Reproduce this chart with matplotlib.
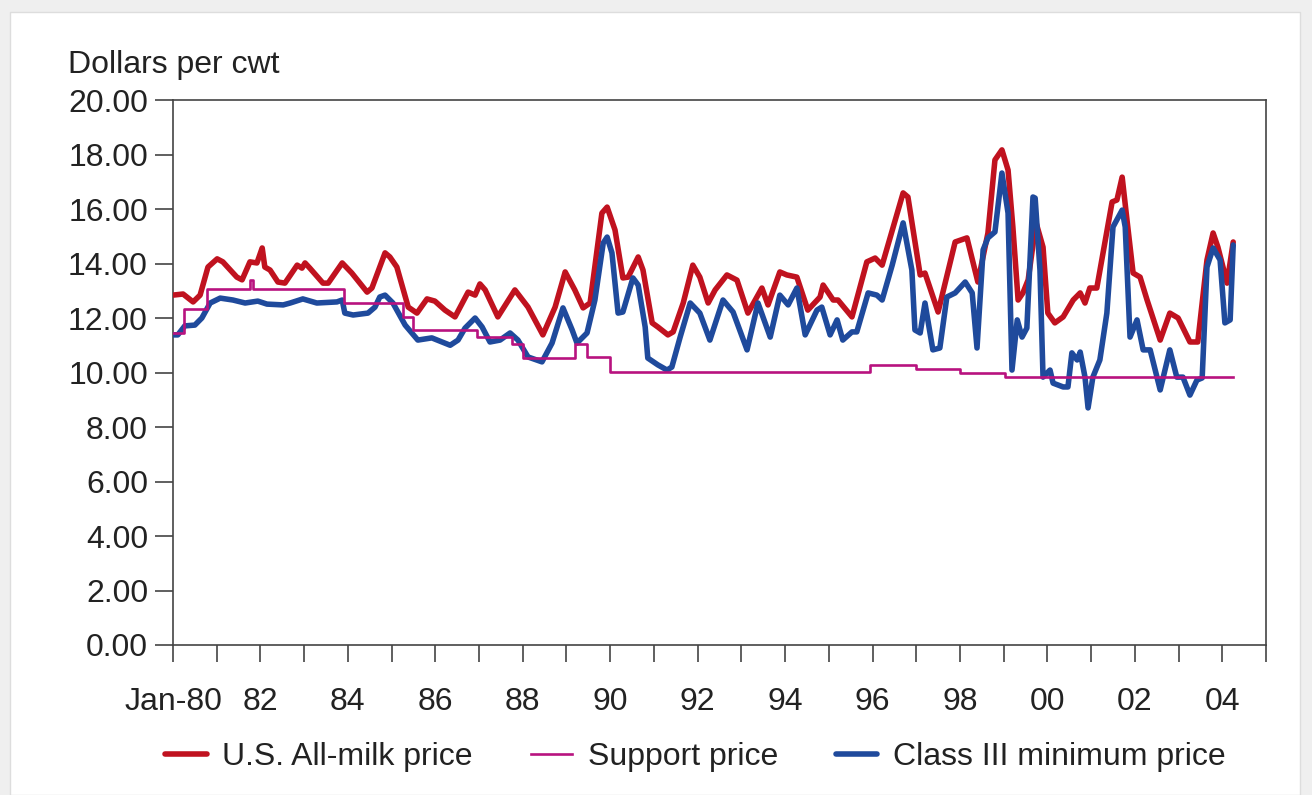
import numpy as np
import matplotlib
matplotlib.use("Agg")
import matplotlib.pyplot as plt
from matplotlib.patches import Rectangle

plt.rcParams["font.family"] = ["Liberation Sans", "DejaVu Sans"]

# U.S. All-milk price (decimal year, dollars per cwt)
allmilk_t = [1980.00, 1980.23, 1980.46, 1980.62, 1980.80, 1981.01, 1981.14, 1981.46, 1981.58, 1981.76,
             1981.92, 1982.04, 1982.10, 1982.22, 1982.40, 1982.56, 1982.84, 1982.95, 1983.02, 1983.13,
             1983.43, 1983.55, 1983.87, 1984.09, 1984.44, 1984.55, 1984.85, 1984.96, 1985.12, 1985.38,
             1985.58, 1985.81, 1985.99, 1986.22, 1986.45, 1986.75, 1986.91, 1987.02, 1987.14, 1987.43,
             1987.82, 1988.12, 1988.46, 1988.74, 1988.97, 1989.19, 1989.38, 1989.54, 1989.81, 1989.93,
             1990.11, 1990.29, 1990.41, 1990.64, 1990.75, 1990.96, 1991.09, 1991.32, 1991.44, 1991.67,
             1991.89, 1992.05, 1992.24, 1992.40, 1992.67, 1992.90, 1993.15, 1993.47, 1993.61, 1993.88,
             1994.04, 1994.27, 1994.52, 1994.80, 1994.87, 1995.10, 1995.21, 1995.53, 1995.87, 1996.06,
             1996.22, 1996.70, 1996.81, 1997.09, 1997.20, 1997.50, 1997.89, 1998.16, 1998.41, 1998.64,
             1998.80, 1998.96, 1999.10, 1999.21, 1999.33, 1999.44, 1999.56, 1999.74, 1999.90, 2000.01,
             2000.17, 2000.36, 2000.59, 2000.75, 2000.86, 2000.97, 2001.13, 2001.48, 2001.59, 2001.71,
             2001.82, 2001.96, 2002.12, 2002.28, 2002.58, 2002.80, 2002.99, 2003.26, 2003.44, 2003.65,
             2003.79, 2003.90, 2004.11, 2004.25]
allmilk_v = [12.84, 12.88, 12.59, 12.84, 13.87, 14.17, 14.06, 13.50, 13.40, 14.06,
             14.02, 14.57, 13.87, 13.76, 13.32, 13.28, 13.94, 13.83, 14.02, 13.83,
             13.28, 13.28, 14.02, 13.65, 12.95, 13.10, 14.39, 14.24, 13.87, 12.40,
             12.18, 12.70, 12.62, 12.29, 12.04, 12.95, 12.84, 13.25, 13.03, 12.04,
             13.03, 12.40, 11.38, 12.40, 13.69, 13.03, 12.37, 12.55, 15.85, 16.07,
             15.23, 13.47, 13.50, 14.24, 13.76, 11.82, 11.67, 11.38, 11.49, 12.55,
             13.94, 13.50, 12.55, 13.03, 13.58, 13.39, 12.18, 13.10, 12.48, 13.69,
             13.58, 13.50, 12.29, 12.77, 13.21, 12.66, 12.66, 12.04, 14.06, 14.20,
             13.94, 16.59, 16.44, 13.58, 13.65, 12.22, 14.79, 14.94, 13.32, 15.12,
             17.80, 18.17, 17.43, 15.34, 12.66, 12.92, 13.40, 15.50, 14.60, 12.18,
             11.82, 12.04, 12.66, 12.92, 12.55, 13.10, 13.10, 16.26, 16.33, 17.17,
             15.60, 13.65, 13.50, 12.66, 11.19, 12.18, 12.00, 11.12, 11.12, 14.13,
             15.12, 14.60, 13.28, 14.79]

# Support price, step changes (decimal year, dollars per cwt)
support_t = [1980.00, 1980.25, 1980.78, 1981.75, 1981.83, 1983.92, 1985.25, 1985.50, 1986.95,
             1987.75, 1988.00, 1989.20, 1989.47, 1990.00, 1995.94, 1997.00, 1998.00, 1999.03, 2004.25]
support_v = [11.45, 12.33, 13.06, 13.40, 13.06, 12.55, 12.04, 11.56, 11.30,
             11.04, 10.53, 11.04, 10.57, 10.02, 10.27, 10.13, 9.98, 9.83, 9.83]

# Class III minimum price (decimal year, dollars per cwt)
class3_t = [1980.00, 1980.11, 1980.27, 1980.50, 1980.66, 1980.85, 1981.08, 1981.37, 1981.65, 1981.94,
            1982.15, 1982.52, 1982.68, 1982.97, 1983.29, 1983.75, 1983.87, 1983.93, 1984.12, 1984.46,
            1984.62, 1984.73, 1984.85, 1985.03, 1985.31, 1985.60, 1985.92, 1986.34, 1986.52, 1986.68,
            1986.91, 1987.07, 1987.25, 1987.48, 1987.71, 1987.89, 1988.12, 1988.44, 1988.67, 1988.92,
            1989.13, 1989.24, 1989.47, 1989.65, 1989.84, 1989.93, 1990.04, 1990.18, 1990.29, 1990.52,
            1990.64, 1990.80, 1990.86, 1991.09, 1991.30, 1991.41, 1991.60, 1991.83, 1992.05, 1992.28,
            1992.58, 1992.81, 1993.13, 1993.38, 1993.66, 1993.88, 1994.07, 1994.27, 1994.46, 1994.73,
            1994.84, 1995.03, 1995.19, 1995.32, 1995.53, 1995.64, 1995.90, 1996.10, 1996.22, 1996.45,
            1996.70, 1996.90, 1996.97, 1997.09, 1997.20, 1997.38, 1997.54, 1997.70, 1997.89, 1998.12,
            1998.28, 1998.39, 1998.53, 1998.64, 1998.80, 1998.96, 1999.10, 1999.19, 1999.31, 1999.42,
            1999.53, 1999.67, 1999.72, 1999.83, 1999.90, 2000.06, 2000.13, 2000.36, 2000.47, 2000.56,
            2000.68, 2000.75, 2000.86, 2000.93, 2001.04, 2001.20, 2001.36, 2001.50, 2001.71, 2001.78,
            2001.89, 2002.05, 2002.19, 2002.35, 2002.58, 2002.80, 2002.96, 2003.10, 2003.26, 2003.42,
            2003.54, 2003.65, 2003.79, 2003.95, 2004.06, 2004.18, 2004.25]
class3_v = [11.38, 11.38, 11.71, 11.74, 12.00, 12.55, 12.73, 12.66, 12.55, 12.62,
            12.51, 12.48, 12.55, 12.70, 12.55, 12.59, 12.66, 12.18, 12.11, 12.18,
            12.40, 12.77, 12.84, 12.55, 11.74, 11.19, 11.27, 11.00, 11.19, 11.63,
            12.00, 11.67, 11.12, 11.19, 11.45, 11.19, 10.57, 10.39, 11.08, 12.37,
            11.56, 11.08, 11.45, 12.66, 14.75, 14.97, 14.39, 12.18, 12.22, 13.47,
            13.21, 11.67, 10.53, 10.28, 10.09, 10.20, 11.30, 12.55, 12.18, 11.19,
            12.66, 12.22, 10.83, 12.55, 11.30, 12.84, 12.48, 13.10, 11.38, 12.29,
            12.40, 11.38, 11.93, 11.19, 11.49, 11.49, 12.92, 12.84, 12.66, 13.94,
            15.49, 13.76, 11.56, 11.45, 12.55, 10.83, 10.90, 12.77, 12.92, 13.32,
            12.92, 10.90, 14.50, 14.94, 15.16, 17.32, 15.85, 10.09, 11.93, 11.30,
            11.63, 16.44, 16.40, 13.76, 9.83, 10.09, 9.61, 9.47, 9.47, 10.72,
            10.46, 10.75, 9.83, 8.70, 9.83, 10.46, 12.18, 15.34, 15.96, 15.34,
            11.30, 11.93, 10.83, 10.83, 9.36, 10.83, 9.83, 9.83, 9.17, 9.72,
            9.80, 13.87, 14.57, 14.13, 11.82, 11.93, 14.68]

years = list(range(1980, 2006))
year_labels = ["Jan-80", "", "82", "", "84", "", "86", "", "88", "", "90", "", "92", "",
               "94", "", "96", "", "98", "", "00", "", "02", "", "04", ""]
y_ticks = [0, 2, 4, 6, 8, 10, 12, 14, 16, 18, 20]

red = "#C0121F"
magenta = "#B8127F"
blue = "#1F4A9C"
ink = "#222222"
fs = 23

fig = plt.figure(figsize=(13.12, 7.95), dpi=100)
fig.patch.set_facecolor("#efefef")
card = Rectangle((10 / 1312, 0), 1290 / 1312, 783 / 795, transform=fig.transFigure,
                 facecolor="white", edgecolor="#dddddd", lw=1, zorder=-10)
fig.add_artist(card)

ax = fig.add_axes([173 / 1312, 1 - 645 / 795, 1093 / 1312, 545 / 795])
ax.set_facecolor("white")

ax.plot(allmilk_t, allmilk_v, color=red, lw=4.0, solid_joinstyle="round", solid_capstyle="round",
        label="U.S. All-milk price", zorder=3)
ax.plot(class3_t, class3_v, color=blue, lw=4.0, solid_joinstyle="round", solid_capstyle="round",
        label="Class III minimum price", zorder=4)
ax.plot(support_t, support_v, color=magenta, lw=1.9, drawstyle="steps-post", label="Support price", zorder=5)

ax.set_xlim(1980, 2005)
ax.set_ylim(0, 20)
ax.set_xticks(years)
ax.set_xticklabels(year_labels)
ax.set_yticks(y_ticks)
ax.set_yticklabels(["%.2f" % v for v in y_ticks])

for s in ax.spines.values():
    s.set_color("#444444")
    s.set_linewidth(1.2)
ax.tick_params(axis="x", direction="out", length=12, width=1.2, color="#444444",
               labelsize=fs, labelcolor=ink, pad=18)
ax.tick_params(axis="y", direction="out", length=13, width=1.2, color="#444444",
               labelsize=fs, labelcolor=ink, pad=5)

fig.text(68 / 1312, 1 - 73 / 795, "Dollars per cwt", fontsize=fs, color=ink, va="baseline", ha="left")

handles, labels = ax.get_legend_handles_labels()
order = [0, 2, 1]
leg = fig.legend([handles[i] for i in order], [labels[i] for i in order], loc="center left",
                 bbox_to_anchor=(165 / 1312, 1 - 757 / 795), ncol=3, frameon=False, fontsize=fs,
                 handlelength=1.3, handletextpad=0.5, columnspacing=1.8, borderpad=0, borderaxespad=0)
for t in leg.get_texts():
    t.set_color(ink)

fig.savefig("out.png", dpi=100, facecolor=fig.get_facecolor())
